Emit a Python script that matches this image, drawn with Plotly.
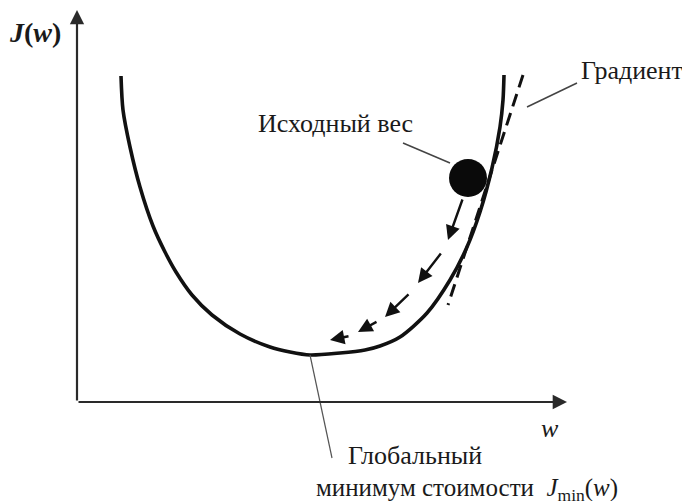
import plotly.graph_objects as go

# Cost curve J(w) (units: w, J)
curve_w = [4.4, 4.6, 5.3, 6.3, 7.6, 8.8, 9.9, 11.5, 13.5, 16.3, 19.3, 21.3, 23.3,
           26.3, 28.8, 30.3, 32.3, 35.0, 37.3, 39.0, 40.3, 41.5, 42.3, 42.6, 42.7]
curve_J = [32.6, 29.2, 25.5, 21.5, 17.6, 15.0, 13.0, 10.7, 8.7, 6.8, 5.5, 5.0, 4.7,
           4.9, 5.2, 5.6, 6.5, 8.9, 12.2, 15.5, 19.0, 23.4, 27.5, 30.2, 32.7]

# Initial weight (ball)
start_w = [39.1]
start_J = [22.4]

# Gradient tangent line
grad_w = [44.6, 37.1]
grad_J = [32.7, 9.7]

# Descent steps (start -> tip)
step_w0 = [38.6, 36.5, 33.3, 30.1, 27.3]
step_J0 = [20.4, 15.0, 10.9, 8.1, 6.6]
step_w1 = [37.1, 34.1, 30.8, 28.1, 25.3]
step_J1 = [16.2, 11.9, 8.5, 7.0, 6.2]

# Global minimum
min_w = 23.3
min_J = 4.7

# Axes extents
w_max = 49.0
J_max = 39.2

serif = "Liberation Serif, Times New Roman, serif"
txt = "#1a1a1a"

fig = go.Figure()

# curve
fig.add_trace(go.Scatter(x=curve_w, y=curve_J, mode="lines",
                         line=dict(color="#111", width=3.6, shape="spline", smoothing=0.8),
                         hoverinfo="skip"))
# gradient tangent
fig.add_trace(go.Scatter(x=grad_w, y=grad_J, mode="lines",
                         line=dict(color="#111", width=3, dash="13px,7px"),
                         hoverinfo="skip"))
# leader lines
fig.add_trace(go.Scatter(x=[50.0, 45.0], y=[31.9, 29.5], mode="lines",
                         line=dict(color="#444", width=1.5), hoverinfo="skip"))
fig.add_trace(go.Scatter(x=[32.6, 37.3], y=[25.9, 23.9], mode="lines",
                         line=dict(color="#444", width=1.5), hoverinfo="skip"))
fig.add_trace(go.Scatter(x=[min_w, 25.5], y=[min_J, -5.6], mode="lines",
                         line=dict(color="#555", width=1.2), hoverinfo="skip"))
# ball
fig.add_trace(go.Scatter(x=start_w, y=start_J, mode="markers",
                         marker=dict(color="#0a0a0a", size=38, line=dict(width=0)),
                         hoverinfo="skip"))

annotations = []
# axes with arrows
annotations.append(dict(x=0, y=J_max, ax=0, ay=0, xref="x", yref="y", axref="x", ayref="y",
                        showarrow=True, arrowhead=2, arrowwidth=2.2, arrowsize=1.3,
                        arrowcolor="#2a2a2a", text=""))
annotations.append(dict(x=w_max, y=0, ax=0, ay=0, xref="x", yref="y", axref="x", ayref="y",
                        showarrow=True, arrowhead=2, arrowwidth=2.2, arrowsize=1.3,
                        arrowcolor="#2a2a2a", text=""))
# descent arrows
for a, b, c, d in zip(step_w0, step_J0, step_w1, step_J1):
    annotations.append(dict(x=c, y=d, ax=a, ay=b, xref="x", yref="y", axref="x", ayref="y",
                            showarrow=True, arrowhead=2, arrowwidth=2.4, arrowsize=1.2,
                            arrowcolor="#111", text=""))

# labels
annotations.append(dict(x=-4.2, y=37.0, xref="x", yref="y", showarrow=False,
                        text="<b><i>J</i>(<i>w</i>)</b>", font=dict(family=serif, size=28, color=txt)))
annotations.append(dict(x=47.3, y=-2.6, xref="x", yref="y", showarrow=False,
                        text="<i>w</i>", font=dict(family=serif, size=26, color=txt)))
annotations.append(dict(x=50.2, y=33.2, xref="x", yref="y", showarrow=False, xanchor="left",
                        text="Градиент", font=dict(family=serif, size=26, color=txt)))
annotations.append(dict(x=25.8, y=27.9, xref="x", yref="y", showarrow=False,
                        text="Исходный вес", font=dict(family=serif, size=26, color=txt)))
annotations.append(dict(x=26.9, y=-5.3, xref="x", yref="y", showarrow=False, xanchor="left",
                        text="Глобальный", font=dict(family=serif, size=26, color=txt)))
annotations.append(dict(x=23.7, y=-8.7, xref="x", yref="y", showarrow=False, xanchor="left",
                        text="минимум стоимости&nbsp; <i>J</i><sub>min</sub>(<i>w</i>)",
                        font=dict(family=serif, size=25, color=txt)))

# page body has an 8px margin, so the figure is sized to fit the window
fig.update_layout(
    width=682, height=493,
    margin=dict(l=0, r=0, t=0, b=0),
    paper_bgcolor="white", plot_bgcolor="white",
    showlegend=False,
    xaxis=dict(range=[-6.9, 61.3], visible=False, fixedrange=True),
    yaxis=dict(range=[-9.9, 39.4], visible=False, fixedrange=True),
    annotations=annotations,
)

fig.write_html("out.html")
